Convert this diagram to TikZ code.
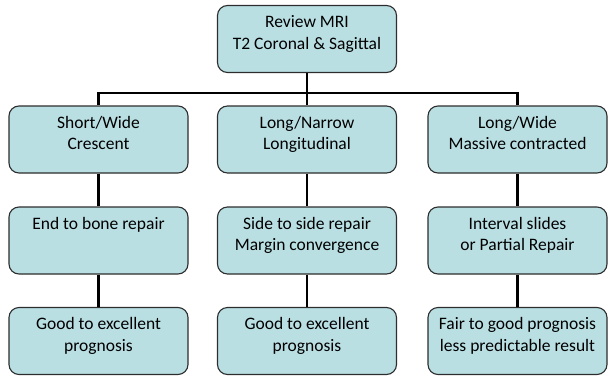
\documentclass[tikz,border=0pt]{standalone}
\usepackage{fontspec}
\setmainfont{Carlito}
\definecolor{boxfill}{RGB}{185,223,227}
\definecolor{boxline}{RGB}{45,45,45}
\newcommand{\boxtext}[1]{\parbox[c][53pt][t]{165pt}{\centering\strut #1}}
\tikzset{
  stage/.style={draw=boxline, line width=1.1pt, fill=boxfill, rounded corners=10pt,
    inner sep=7pt, minimum width=179pt, minimum height=67pt,
    font=\fontsize{17.5}{21.5}\selectfont},
  link/.style={line width=2.6pt, black}
}
\begin{document}
\begin{tikzpicture}[x=1pt,y=1pt]
	    \useasboundingbox (0,0) rectangle (610,-375);
	    \node[stage] (mri) at (307,-39) {\boxtext{Review MRI\\T2 Coronal \& Sagittal}};
	    \node[stage] (short) at (98.5,-139.5) {\boxtext{Short/Wide\\Crescent}};
	    \node[stage] (narrow) at (307,-139.5) {\boxtext{Long/Narrow\\Longitudinal}};
	    \node[stage] (wide) at (517.5,-139.5) {\boxtext{Long/Wide\\Massive contracted}};
	    \node[stage] (bone) at (98.5,-240.5) {\boxtext{End to bone repair}};
	    \node[stage] (side) at (307,-240.5) {\boxtext{Side to side repair\\Margin convergence}};
	    \node[stage] (slide) at (517.5,-240.5) {\boxtext{Interval slides\\or Partial Repair}};
	    \node[stage] (goodA) at (98.5,-341) {\boxtext{Good to excellent\\prognosis}};
	    \node[stage] (goodB) at (307,-341) {\boxtext{Good to excellent\\prognosis}};
	    \node[stage] (fair) at (517.5,-341) {\boxtext{Fair to good prognosis\\less predictable result}};
	    \coordinate (bar) at (307,-93);
	    \draw[link] (mri) -- (narrow);
	    \draw[link] (short.north) |- (bar) -| (wide.north);
	    \draw[link] (short) -- (bone);
	    \draw[link] (bone) -- (goodA);
	    \draw[link] (side) -- (goodB);
	    \draw[link] (narrow) -- (side);
	    \draw[link] (wide) -- (slide);
	    \draw[link] (slide) -- (fair);
	\end{tikzpicture}
\end{document}
